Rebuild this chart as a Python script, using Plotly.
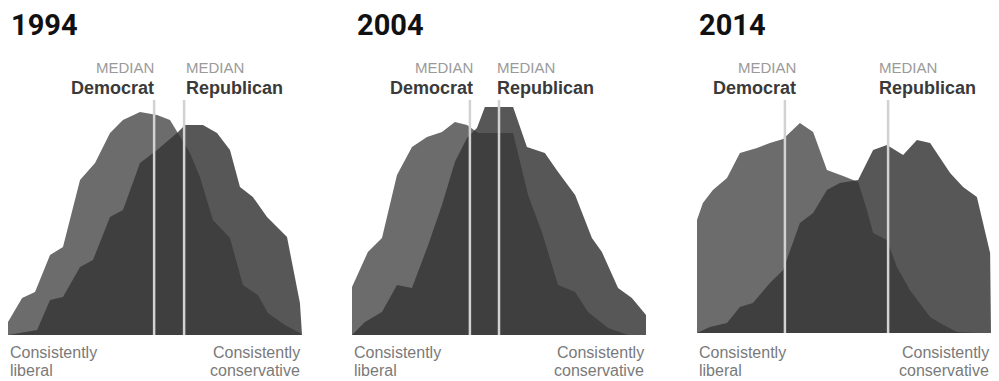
import plotly.graph_objects as go

# ---------------- data (x: position on ideological scale 0-100, y: relative share) -------------
years = ["1994", "2004", "2014"]

dem_x_1994 = [0, 0, 4.8, 9.2, 14.3, 18.7, 24.5, 29.6, 34.7, 39.1, 44.9, 50.7, 55.1, 57.5, 61.9, 65.3,
              69.7, 75.5, 79.9, 85.0, 88.4, 94.2, 99.3, 100]
dem_y_1994 = [0, 13, 37, 43, 80, 88, 155, 172, 202, 215, 223, 220, 215, 203, 182, 158,
              115, 97, 50, 40, 22, 10, 2, 0]
rep_x_1994 = [0, 9.9, 14.3, 18.7, 24.5, 28.9, 34.7, 39.1, 44.9, 50.7, 57.5, 60.2, 66.3, 71.1, 75.5,
              78.9, 83.3, 88.1, 94.9, 99.3, 100]
rep_y_1994 = [0, 5, 35, 38, 68, 75, 118, 125, 172, 185, 202, 210, 210, 202, 185,
              148, 138, 118, 98, 32, 0]

dem_x_2004 = [0, 0, 5.4, 10.2, 15.3, 20.4, 25.5, 30.6, 35.0, 39.1, 42.9, 54.8, 59.9, 64.6, 70.1,
              75.9, 80.3, 87.1, 93.9, 100]
dem_y_2004 = [0, 48, 83, 97, 160, 188, 198, 203, 213, 210, 202, 202, 140, 103, 50,
              43, 23, 7, 0, 0]
rep_x_2004 = [0, 4.4, 10.2, 15.3, 20.4, 25.9, 30.6, 35.0, 39.1, 42.5, 45.2, 54.8, 59.5, 65.6, 70.1,
              75.9, 81.6, 85.0, 90.5, 95.2, 100, 100]
rep_y_2004 = [0, 13, 23, 50, 47, 90, 130, 173, 197, 207, 228, 228, 188, 182, 163,
              140, 97, 83, 47, 37, 20, 0]

dem_x_2014 = [0, 0, 2.0, 5.4, 10.2, 14.6, 20.4, 24.8, 29.3, 35.0, 39.5, 44.2, 49.7, 54.8, 57.8,
              59.9, 64.6, 68.0, 72.4, 79.3, 82.7, 88.4, 96.3, 100]
dem_y_2014 = [0, 113, 130, 143, 155, 180, 185, 190, 194, 210, 201, 163, 157, 151, 123,
              100, 93, 66, 43, 16, 10, 1, 0, 0]
rep_x_2014 = [0, 4.4, 10.2, 14.6, 19.0, 24.8, 29.3, 35.0, 39.5, 44.2, 48.6, 54.8, 59.9, 64.6, 70.1,
              74.8, 79.3, 86.1, 90.5, 95.2, 99.7, 100]
rep_y_2014 = [0, 6, 10, 26, 30, 50, 63, 110, 120, 143, 150, 153, 183, 188, 178,
              193, 190, 160, 146, 136, 80, 0]

median_dem = [49.7, 40.1, 29.9]
median_rep = [59.9, 50.0, 65.0]

left_label = ["Consistently", "liberal"]
right_label = ["Consistently", "conservative"]

# ---------------- styling -------------
W, H = 999, 381
DEM_FILL = "rgb(108,108,108)"
REP_FILL = "rgba(55,55,55,0.84)"
LINE_COL = "#d2d2d2"
SANS = "Liberation Sans, Arial, sans-serif"
TITLE_FONT = "Roboto, Liberation Sans, sans-serif"

panel_px = [(8, 302), (352, 646), (697, 991)]
baseline_px = [335, 335, 333]
top_px = [95, 95, 93]
line_top_px = 100
title_px = [9, 355, 697]
dem_label_shift = [2, 5, 13]
rep_label_shift = [0, -4, -11]

dem_x = [dem_x_1994, dem_x_2004, dem_x_2014]
dem_y = [dem_y_1994, dem_y_2004, dem_y_2014]
rep_x = [rep_x_1994, rep_x_2004, rep_x_2014]
rep_y = [rep_y_1994, rep_y_2004, rep_y_2014]

fig = go.Figure()
layout = dict(width=W, height=H, margin=dict(l=0, r=0, t=0, b=0),
              paper_bgcolor="white", plot_bgcolor="rgba(0,0,0,0)", showlegend=False)
annotations = []
shapes = []

for i in range(3):
    sfx = "" if i == 0 else str(i + 1)
    xa, ya = "x" + sfx, "y" + sfx
    x0, x1 = panel_px[i]
    b, t = baseline_px[i], top_px[i]
    ymax = b - t
    layout["xaxis" + sfx] = dict(domain=[x0 / W, x1 / W], range=[0, 100], visible=False,
                                 fixedrange=True)
    layout["yaxis" + sfx] = dict(domain=[(H - b) / H, (H - t) / H], range=[0, ymax],
                                 visible=False, fixedrange=True)

    fig.add_trace(go.Scatter(x=dem_x[i], y=dem_y[i], xaxis=xa, yaxis=ya, mode="lines",
                             line=dict(width=0), fill="toself", fillcolor=DEM_FILL,
                             hoverinfo="skip"))
    fig.add_trace(go.Scatter(x=rep_x[i], y=rep_y[i], xaxis=xa, yaxis=ya, mode="lines",
                             line=dict(width=0), fill="toself", fillcolor=REP_FILL,
                             hoverinfo="skip"))

    ltop = b - line_top_px
    for m in (median_dem[i], median_rep[i]):
        shapes.append(dict(type="line", xref=xa, yref=ya, x0=m, x1=m, y0=0, y1=ltop,
                           line=dict(color=LINE_COL, width=2.5)))

    # year title
    annotations.append(dict(text="<b>" + years[i] + "</b>", xref="paper", yref="paper",
                            x=title_px[i] / W, y=(H - 25) / H, xanchor="left", yanchor="middle",
                            showarrow=False, font=dict(family=TITLE_FONT, size=29, color="#111111")))
    # median labels
    annotations.append(dict(text="MEDIAN", xref=xa, yref="paper", x=median_dem[i],
                            xshift=dem_label_shift[i], y=(H - 67) / H, xanchor="right",
                            yanchor="middle", showarrow=False,
                            font=dict(family=SANS, size=15, color="#9a9a9a")))
    annotations.append(dict(text="<b>Democrat</b>", xref=xa, yref="paper", x=median_dem[i],
                            xshift=dem_label_shift[i], y=(H - 88) / H, xanchor="right",
                            yanchor="middle", showarrow=False,
                            font=dict(family=SANS, size=18, color="#3a3a3a")))
    annotations.append(dict(text="MEDIAN", xref=xa, yref="paper", x=median_rep[i],
                            xshift=rep_label_shift[i], y=(H - 67) / H, xanchor="left",
                            yanchor="middle", showarrow=False,
                            font=dict(family=SANS, size=15, color="#9a9a9a")))
    annotations.append(dict(text="<b>Republican</b>", xref=xa, yref="paper", x=median_rep[i],
                            xshift=rep_label_shift[i], y=(H - 88) / H, xanchor="left",
                            yanchor="middle", showarrow=False,
                            font=dict(family=SANS, size=18, color="#3a3a3a")))
    # scale end labels
    for k, ypx in enumerate((352, 370)):
        annotations.append(dict(text=left_label[k], xref="paper", yref="paper", x=x0 / W,
                                y=(H - ypx) / H, xanchor="left", yanchor="middle",
                                showarrow=False,
                                font=dict(family=SANS, size=16, color="#7a7a7a")))
        annotations.append(dict(text=right_label[k], xref="paper", yref="paper", x=x1 / W,
                                y=(H - ypx) / H, xanchor="right", yanchor="middle",
                                showarrow=False,
                                font=dict(family=SANS, size=16, color="#7a7a7a")))

layout["annotations"] = annotations
layout["shapes"] = shapes
fig.update_layout(**layout)
fig.write_html("out.html", config={"displayModeBar": False},
               post_script="document.body.style.margin='0';document.body.style.overflow='hidden';")
